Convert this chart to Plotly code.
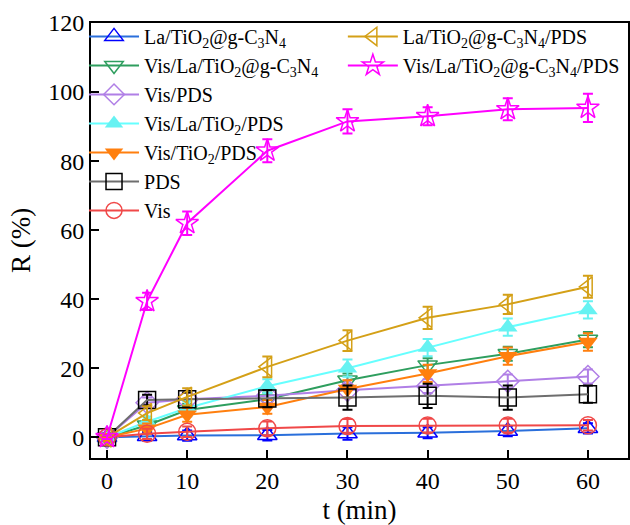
import plotly.graph_objects as go

t = [0, 5, 10, 20, 30, 40, 50, 60]

names = [
    "La/TiO<sub>2</sub>@g-C<sub>3</sub>N<sub>4</sub>",
    "Vis/La/TiO<sub>2</sub>@g-C<sub>3</sub>N<sub>4</sub>",
    "Vis/PDS",
    "Vis/La/TiO<sub>2</sub>/PDS",
    "Vis/TiO<sub>2</sub>/PDS",
    "PDS",
    "Vis",
    "La/TiO<sub>2</sub>@g-C<sub>3</sub>N<sub>4</sub>/PDS",
    "Vis/La/TiO<sub>2</sub>@g-C<sub>3</sub>N<sub>4</sub>/PDS",
]

r_la_tio2_cn = [0, 0.3, 0.5, 0.6, 1.1, 1.3, 1.8, 2.6]
r_vis_la_tio2_cn = [0, 3.5, 7.9, 11.0, 16.5, 20.9, 24.2, 28.3]
r_vis_pds = [0, 10.0, 11.0, 12.0, 13.6, 14.8, 16.2, 17.6]
r_vis_la_tio2_pds = [0, 4.5, 8.5, 14.8, 20.0, 26.0, 31.9, 36.9]
r_vis_tio2_pds = [0, 2.5, 6.5, 8.8, 14.0, 18.5, 23.5, 27.6]
r_pds = [0, 10.8, 11.0, 11.2, 11.5, 12.0, 11.5, 12.5]
r_vis = [0, 1.0, 1.6, 2.6, 3.3, 3.4, 3.4, 3.5]
r_la_tio2_cn_pds = [0, 7.0, 11.7, 20.4, 28.0, 34.6, 38.5, 43.6]
r_vis_la_tio2_cn_pds = [0, 39.4, 62.0, 83.0, 91.5, 93.0, 95.0, 95.4]

e_la_tio2_cn = [0.5, 1.2, 1.5, 1.5, 1.8, 1.6, 1.5, 1.5]
e_vis_la_tio2_cn = [0.5, 1.5, 1.8, 2.0, 2.0, 2.0, 2.0, 2.2]
e_vis_pds = [0.5, 1.5, 1.8, 2.0, 2.0, 2.0, 2.0, 2.0]
e_vis_la_tio2_pds = [0.5, 1.5, 2.0, 2.0, 2.5, 2.5, 2.5, 2.5]
e_vis_tio2_pds = [0.5, 1.5, 2.0, 2.0, 2.5, 2.5, 2.5, 2.5]
e_pds = [0.5, 1.5, 2.0, 2.5, 3.5, 3.5, 3.5, 2.5]
e_vis = [0.5, 1.5, 1.5, 2.0, 2.0, 2.0, 2.0, 1.5]
e_la_tio2_cn_pds = [0.5, 2.0, 2.5, 3.0, 3.0, 3.2, 2.8, 3.2]
e_vis_la_tio2_cn_pds = [0.5, 2.5, 3.4, 3.3, 3.5, 2.6, 3.2, 4.1]

series = [
    (r_la_tio2_cn, e_la_tio2_cn, "#2a6fdb", "#0000ff", "triangle-up-open", "#0000ff", "legend"),
    (r_vis_la_tio2_cn, e_vis_la_tio2_cn, "#2e9e5e", "#2e9e5e", "triangle-down-open", "#2e9e5e", "legend"),
    (r_vis_pds, e_vis_pds, "#b07fe6", "#b07fe6", "diamond-open", "#b07fe6", "legend"),
    (r_vis_la_tio2_pds, e_vis_la_tio2_pds, "#66ffff", "#66f2f2", "triangle-up", "#66f2f2", "legend"),
    (r_vis_tio2_pds, e_vis_tio2_pds, "#ff7f0e", "#ff7f0e", "triangle-down", "#ff7f0e", "legend"),
    (r_pds, e_pds, "#6e6e6e", "#000000", "square-open", "#000000", "legend"),
    (r_vis, e_vis, "#f04848", "#f04848", "circle-open", "#f04848", "legend"),
    (r_la_tio2_cn_pds, e_la_tio2_cn_pds, "#d4a017", "#d4a017", "triangle-left-open", "#d4a017", "legend2"),
    (r_vis_la_tio2_cn_pds, e_vis_la_tio2_cn_pds, "#ff00ff", "#ff00ff", "star-open", "#ff00ff", "legend2"),
]

fig = go.Figure()
for name, (vals, errs, lc, mc, sym, ec, lg) in zip(names, series):
    filled = not sym.endswith("open")
    fig.add_trace(go.Scatter(
        x=t, y=vals, name=name, mode="lines+markers", legend=lg,
        line=dict(color=lc, width=2),
        marker=dict(symbol=sym, size=17, color=mc,
                    line=dict(color=mc, width=1.5 if not filled else 0)),
        error_y=dict(type="data", array=errs, visible=True, color=ec,
                     thickness=2, width=5),
    ))

font_family = "Liberation Serif, Times New Roman, serif"

fig.update_layout(
    width=630, height=525,
    margin=dict(l=91, r=2, t=23, b=67, autoexpand=False),
    paper_bgcolor="white", plot_bgcolor="white",
    font=dict(family=font_family, size=22, color="black"),
    showlegend=True,
    legend=dict(x=-0.013, y=1.014, xanchor="left", yanchor="top",
                bgcolor="rgba(0,0,0,0)", font=dict(size=20, family=font_family),
                itemwidth=50, tracegroupgap=0),
    legend2=dict(x=0.469, y=1.014, xanchor="left", yanchor="top",
                 bgcolor="rgba(0,0,0,0)", font=dict(size=20, family=font_family),
                 itemwidth=50, tracegroupgap=0),
    xaxis=dict(range=[-2, 65], tickvals=[0, 10, 20, 30, 40, 50, 60],
               ticks="inside", ticklen=8, tickwidth=2, tickcolor="black",
               showline=True, linecolor="black", linewidth=2, mirror=True,
               showgrid=False, zeroline=False, automargin=False,
               tickfont=dict(size=24, family=font_family),
               title=dict(text="t (min)", font=dict(size=27, family=font_family), standoff=8)),
    yaxis=dict(range=[-6, 120], tickvals=[0, 20, 40, 60, 80, 100, 120],
               ticks="inside", ticklen=8, tickwidth=2, tickcolor="black",
               showline=True, linecolor="black", linewidth=2, mirror=True,
               showgrid=False, zeroline=False, automargin=False,
               tickfont=dict(size=24, family=font_family),
               title=dict(text="R (%)", font=dict(size=27, family=font_family), standoff=10)),
)

fig.write_html("out.html", config={"displayModeBar": False},
               post_script="document.body.style.margin='0px';document.body.style.overflow='hidden';")
